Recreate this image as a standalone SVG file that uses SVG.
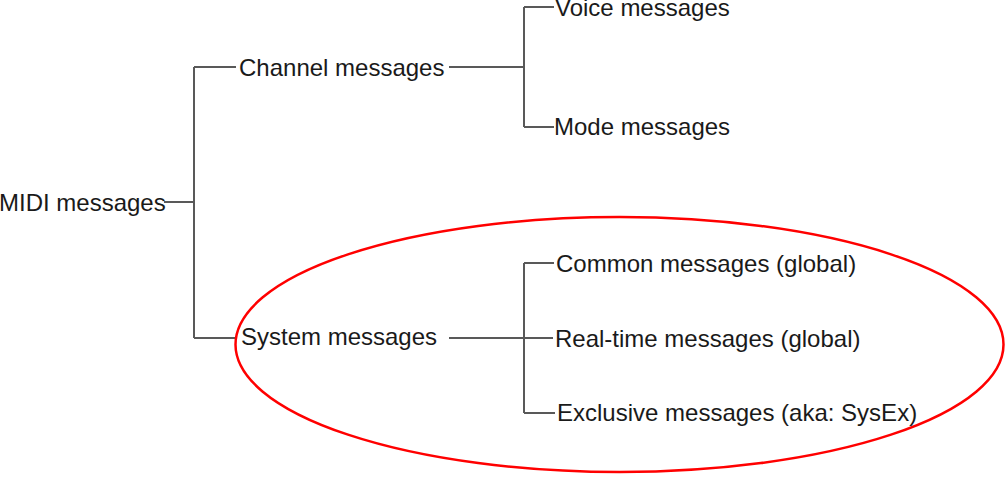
<svg xmlns="http://www.w3.org/2000/svg" width="1007" height="477" viewBox="0 0 1007 477">
<style>
text{font-family:"Liberation Sans",Arial,sans-serif;font-size:24px;fill:#1a1a1a}
.c{stroke:#595959;stroke-width:2;fill:none}
.hl{stroke:#ff0000;stroke-width:2.5;fill:none}
</style>
<rect width="1007" height="477" fill="#ffffff"/>
<g id="connectors">
<path class="c" d="M164,202H194M194,67V338M194,67H236M194,338H235"/>
<path class="c" d="M449,67H524M524,7V127M524,7H554M524,127H554"/>
<path class="c" d="M449,338H553M524,263V413M524,263H554M524,413H555"/>
</g>
<g id="highlight"><ellipse class="hl" cx="619.5" cy="344.5" rx="384" ry="127.5"/></g>
<g id="n-midi"><text x="-1" y="211">MIDI messages</text></g>
<g id="n-channel"><text x="239" y="76">Channel messages</text></g>
<g id="n-voice"><text x="555" y="16">Voice messages</text></g>
<g id="n-mode"><text x="554" y="135">Mode messages</text></g>
<g id="n-system"><text x="241" y="345">System messages</text></g>
<g id="n-common"><text x="556" y="272">Common messages (global)</text></g>
<g id="n-realtime"><text x="555" y="347">Real-time messages (global)</text></g>
<g id="n-exclusive"><text x="557" y="421">Exclusive messages (aka: SysEx)</text></g>
</svg>
